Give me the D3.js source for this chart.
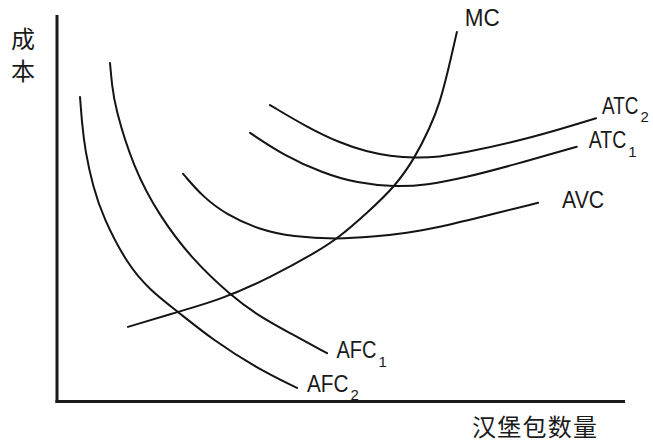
<!DOCTYPE html>
<html>
<head>
<meta charset="utf-8">
<script src="https://cdn.jsdelivr.net/npm/d3@7"></script>
<style>
  html, body { margin: 0; padding: 0; background: #fff; }
  svg { display: block; }
</style>
</head>
<body>
<svg id="chart" width="653" height="444"></svg>
<script>
// ---- Data (quantity 0..100, cost 0..100) ----
const curveNames = ["AFC2", "AFC1", "MC", "AVC", "ATC1", "ATC2"];

const afc2Q = [4.05, 4.40, 4.93, 6.34, 8.10, 12.32, 16.37, 21.30, 27.46, 35.21, 42.25];
const afc2C = [78.8, 72.1, 65.1, 55.5, 47.7, 35.6, 28.8, 23.2, 15.9, 8.6, 3.5];

const afc1Q = [9.33, 9.68, 10.21, 13.38, 18.13, 23.94, 30.46, 35.74, 41.02, 47.54];
const afc1C = [87.6, 81.9, 76.2, 60.7, 47.7, 36.6, 27.6, 21.9, 17.7, 12.5];

const mcQ = [12.5, 21.3, 28.7, 37.5, 46.3, 49.5, 54.6, 59.5, 63.0, 65.7, 67.4, 69.0, 70.4];
const mcC = [19.3, 23.2, 26.3, 32.0, 39.2, 42.3, 48.8, 55.6, 63.0, 71.0, 77.2, 86.5, 95.6];

const avcQ = [22.2, 25.7, 29.9, 35.7, 41.5, 49.3, 55.6, 61.6, 67.4, 74.5, 84.7];
const avcC = [58.9, 52.9, 48.3, 44.4, 42.6, 42.0, 42.6, 43.6, 45.1, 47.7, 51.4];

const atc1Q = [34.0, 39.8, 46.8, 52.8, 59.5, 65.1, 71.5, 80.3, 91.5];
const atc1C = [69.5, 63.8, 59.1, 56.5, 55.5, 56.0, 57.8, 61.2, 65.9];

const atc2Q = [37.5, 44.0, 49.8, 54.6, 58.6, 63.0, 67.4, 71.5, 80.3, 88.0, 94.9];
const atc2C = [76.7, 71.0, 66.9, 64.6, 63.5, 63.0, 63.3, 64.3, 67.1, 70.2, 73.3];

// label text: main part and subscript
const labelMain = ["AFC", "AFC", "MC", "AVC", "ATC", "ATC"];
const labelSub  = ["2", "1", "", "", "1", "2"];

const yAxisTitle = ["成", "本"];
const xAxisTitle = "汉堡包数量";

// ---- Layout (styling, not data) ----
const x = d3.scaleLinear().domain([0, 100]).range([57, 625]);
const y = d3.scaleLinear().domain([0, 100]).range([401.5, 15]);

// label offsets from curve end, and fitted widths
const labelOffset = {
  AFC2: [10, 4], AFC1: [9.5, 5], MC: [8, -6],
  AVC: [24, 5], ATC1: [12, 1.3], ATC2: [6, -4.5]
};
const labelWidth = { AFC2: 41.5, AFC1: 40, MC: 35, AVC: 42, ATC1: 37.5, ATC2: 36.5 };

const series = [
  [afc2Q, afc2C], [afc1Q, afc1C], [mcQ, mcC],
  [avcQ, avcC], [atc1Q, atc1C], [atc2Q, atc2C]
].map(([qs, cs], i) => ({
  name: curveNames[i],
  main: labelMain[i],
  sub: labelSub[i],
  points: qs.map((q, j) => ({ q, c: cs[j] }))
}));

const svg = d3.select("#chart");

// axes (plain lines, no ticks)
const axisG = svg.append("g");
axisG.append("line")
  .attr("x1", x(0)).attr("x2", x(0))
  .attr("y1", y(0) + 1.5).attr("y2", y(100))
  .attr("stroke", "#1a1a1a").attr("stroke-width", 3);
axisG.append("line")
  .attr("x1", x(0) - 1.5).attr("x2", x(100))
  .attr("y1", y(0)).attr("y2", y(0))
  .attr("stroke", "#1a1a1a").attr("stroke-width", 3);

// curves
const line = d3.line()
  .x(d => x(d.q))
  .y(d => y(d.c))
  .curve(d3.curveBasis);

svg.append("g").selectAll("path")
  .data(series)
  .join("path")
  .attr("d", d => line(d.points))
  .attr("fill", "none")
  .attr("stroke", "#141414")
  .attr("stroke-width", 2)
  .attr("stroke-linecap", "round");

// labels (one text element each, subscript as tspan)
const labelFont = "'Liberation Sans', Arial, sans-serif";
const lg = svg.append("g").attr("fill", "#1a1a1a").attr("font-family", labelFont);
series.forEach(s => {
  const end = s.points[s.points.length - 1];
  const off = labelOffset[s.name];
  const lx = x(end.q) + off[0];
  const ly = y(end.c) + off[1];
  const t = lg.append("text").attr("x", lx).attr("y", ly).attr("font-size", 23);
  t.append("tspan")
    .attr("textLength", labelWidth[s.name])
    .attr("lengthAdjust", "spacingAndGlyphs")
    .text(s.main);
  if (s.sub) {
    t.append("tspan")
      .attr("x", lx + labelWidth[s.name] + 2)
      .attr("dy", 8.5)
      .attr("font-size", 15)
      .text(s.sub);
  }
});

// axis titles
const cjk = "'Noto Sans CJK SC', 'Noto Sans CJK JP', sans-serif";
svg.append("g").selectAll("text")
  .data(yAxisTitle)
  .join("text")
  .attr("x", 11)
  .attr("y", (d, i) => 48 + i * 31.5)
  .attr("font-family", cjk)
  .attr("font-size", 24)
  .attr("fill", "#1a1a1a")
  .text(d => d);

svg.append("text")
  .attr("x", 472)
  .attr("y", 436)
  .attr("font-family", cjk)
  .attr("font-size", 24)
  .attr("textLength", 125)
  .attr("lengthAdjust", "spacing")
  .attr("fill", "#1a1a1a")
  .text(xAxisTitle);
</script>
</body>
</html>
